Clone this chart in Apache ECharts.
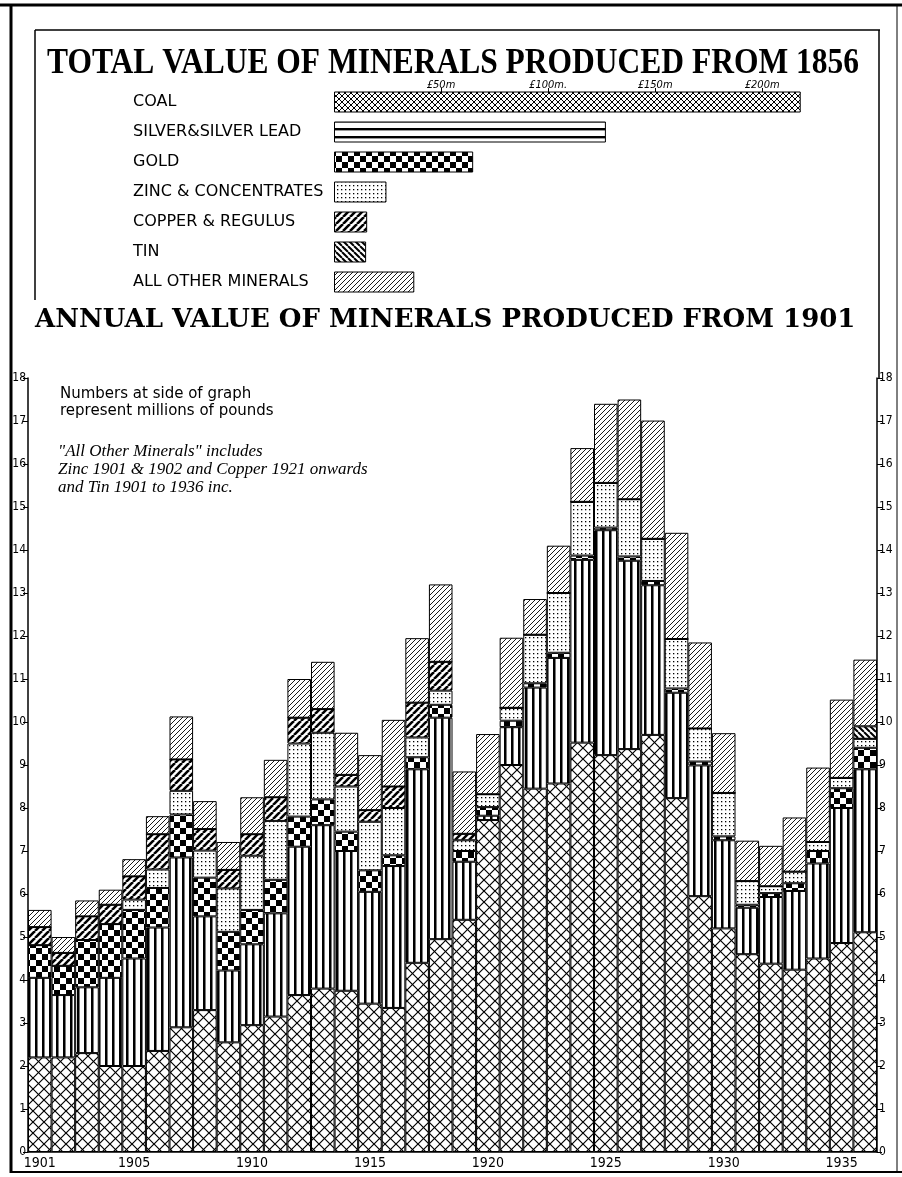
<!DOCTYPE html>
<html>
<head>
<meta charset="utf-8">
<script src="https://cdn.jsdelivr.net/npm/echarts@6/dist/echarts.min.js"></script>
<style>
html,body{margin:0;padding:0;background:#fff;}
#chart{width:902px;height:1177px;}
</style>
</head>
<body>
<div id="chart"></div>
<script>
// total value since 1856, millions of pounds
var totalNames = ['COAL', 'SILVER&SILVER LEAD', 'GOLD', 'ZINC & CONCENTRATES', 'COPPER & REGULUS', 'TIN', 'ALL OTHER MINERALS'];
var totalValues = [218, 127, 65, 24.5, 15.5, 15, 37.5];
var totalTicks = [50, 100, 150, 200];
var totalTickLabels = ['£50m', '£100m.', '£150m', '£200m'];

// annual values 1901-1936, millions of pounds
var years = ['1901','1902','1903','1904','1905','1906','1907','1908','1909','1910',
             '1911','1912','1913','1914','1915','1916','1917','1918','1919','1920',
             '1921','1922','1923','1924','1925','1926','1927','1928','1929','1930',
             '1931','1932','1933','1934','1935','1936'];
var yearLabels = ['1901','1905','1910','1915','1920','1925','1930','1935'];
var coal   = [2.2,2.2,2.3,2.0,2.0,2.35,2.9,3.3,2.55,2.95,3.15,3.65,3.8,3.75,3.45,3.35,4.4,4.95,5.4,7.72,
              9.0,8.45,8.57,9.52,9.23,9.37,9.7,8.23,5.95,5.2,4.6,4.38,4.24,4.5,4.86,5.11];
var silver = [1.85,1.45,1.53,2.05,2.5,2.87,3.95,2.18,1.67,1.88,2.4,3.45,3.8,3.25,2.6,3.3,4.5,5.15,1.35,0.1,
              0.88,2.35,2.92,4.25,5.23,4.38,3.48,2.45,3.04,2.05,1.08,1.55,1.83,2.21,3.14,3.79];
var gold   = [0.76,0.68,1.1,1.25,1.13,0.92,1.0,0.9,0.9,0.8,0.78,0.7,0.6,0.45,0.5,0.25,0.28,0.3,0.25,0.2,
              0.15,0.1,0.12,0.1,0.06,0.1,0.1,0.1,0.09,0.09,0.07,0.09,0.18,0.29,0.46,0.5];
var zinc   = [0,0,0,0,0.24,0.43,0.55,0.63,1.01,1.26,1.37,1.7,1.55,1.05,1.13,1.1,0.46,0.33,0.25,0.3,
              0.3,1.13,1.39,1.25,1.04,1.33,0.98,1.15,0.77,1.01,0.55,0.16,0.27,0.21,0.24,0.21];
var copper = [0.42,0.3,0.55,0.45,0.54,0.82,0.73,0.5,0.43,0.5,0.55,0.6,0.55,0.27,0.27,0.5,0.81,0.67,0.15,0,
              0,0,0,0,0,0,0,0,0,0,0,0,0,0,0,0];
var tin    = [0,0,0,0,0,0,0,0,0,0,0,0,0,0,0,0,0,0,0,0,
              0,0,0,0,0,0,0,0,0,0,0,0,0,0,0,0.29];
var other  = [0.4,0.37,0.37,0.35,0.4,0.42,1.0,0.65,0.65,0.86,0.87,0.9,1.1,0.98,1.28,1.55,1.5,1.8,1.45,1.4,
              1.63,0.83,1.1,1.25,1.84,2.32,2.75,2.47,2.0,1.39,0.94,0.94,1.26,1.73,1.82,1.55];

function makePattern(kind, size, lw){
    var c = document.createElement('canvas');
    c.width = size; c.height = size;
    var g = c.getContext('2d');
    g.fillStyle = '#fff';
    g.fillRect(0, 0, size, size);
    g.fillStyle = '#000';
    g.strokeStyle = '#000';
    g.lineWidth = lw || 1;
    var k;
    if(kind === 'cross' || kind === 'fwd'){
        g.beginPath();
        for(k = -1; k <= 1; k++){ g.moveTo(k*size, size); g.lineTo(k*size + size, 0); }
        g.stroke();
    }
    if(kind === 'cross' || kind === 'back'){
        g.beginPath();
        for(k = -1; k <= 1; k++){ g.moveTo(k*size, 0); g.lineTo(k*size + size, size); }
        g.stroke();
    }
    if(kind === 'vstripe'){ g.fillRect(0, 0, size*0.36, size); }
    if(kind === 'hstripe'){ g.fillRect(0, 0, size, size*0.3); }
    if(kind === 'checker'){
        g.fillRect(0, 0, size/2, size/2);
        g.fillRect(size/2, size/2, size/2, size/2);
    }
    if(kind === 'dots'){ g.fillRect(1, 1, 1.3, 1.3); }
    return {image: c, repeat: 'repeat'};
}

var fills = {
    coal: makePattern('cross', 11, 1.2),
    silver: makePattern('vstripe', 7),
    gold: makePattern('checker', 12),
    zinc: makePattern('dots', 4),
    copper: makePattern('fwd', 7, 2.6),
    tin: makePattern('back', 6, 2),
    other: makePattern('fwd', 5, 0.9)
};
var totalFills = [
    makePattern('cross', 6, 1),
    makePattern('hstripe', 8),
    fills.gold, fills.zinc, fills.copper, fills.tin, fills.other
];

var layers = [
    {name: 'Coal', data: coal, fill: fills.coal},
    {name: 'Silver & Silver Lead', data: silver, fill: fills.silver},
    {name: 'Gold', data: gold, fill: fills.gold},
    {name: 'Zinc & Concentrates', data: zinc, fill: fills.zinc},
    {name: 'Copper & Regulus', data: copper, fill: fills.copper},
    {name: 'Tin', data: tin, fill: fills.tin},
    {name: 'All Other Minerals', data: other, fill: fills.other}
];

var chart = echarts.init(document.getElementById('chart'));

var seriesList = [{
    type: 'bar',
    xAxisIndex: 0,
    yAxisIndex: 0,
    barWidth: 21,
    data: totalValues.map(function(v, i){
        return {value: v, itemStyle: {color: totalFills[i], borderColor: '#000', borderWidth: 1}};
    })
}];
layers.forEach(function(l){
    seriesList.push({
        type: 'bar',
        name: l.name,
        stack: 'annual',
        xAxisIndex: 1,
        yAxisIndex: 1,
        barCategoryGap: '0%',
        data: l.data,
        itemStyle: {color: l.fill, borderColor: '#000', borderWidth: 1}
    });
});

var valueAxisBase = {
    type: 'value',
    gridIndex: 1,
    min: 0,
    max: 18,
    interval: 1,
    axisLine: {show: true, lineStyle: {color: '#000', width: 1.5}},
    axisTick: {show: true, length: 5, lineStyle: {color: '#000'}},
    splitLine: {show: false},
    axisLabel: {color: '#000', fontSize: 12, fontFamily: 'DejaVu Sans Condensed', margin: 2}
};

var option = {
    animation: false,
    backgroundColor: '#fff',
    grid: [
        {left: 334, right: 97, top: 87, height: 210},
        {left: 28, right: 25, top: 378, bottom: 25}
    ],
    xAxis: [{
        type: 'value',
        gridIndex: 0,
        min: 0,
        max: 220,
        position: 'top',
        offset: -5,
        axisLine: {show: false},
        splitLine: {show: false},
        axisTick: {show: true, customValues: totalTicks, length: 4, lineStyle: {color: '#000'}},
        axisLabel: {
            customValues: totalTicks,
            margin: 1,
            color: '#000',
            fontSize: 11,
            fontStyle: 'italic',
            fontFamily: 'DejaVu Sans Condensed',
            formatter: function(v){ return totalTickLabels[totalTicks.indexOf(v)]; }
        }
    }, {
        type: 'category',
        gridIndex: 1,
        data: years,
        axisLine: {show: true, lineStyle: {color: '#000', width: 1.5}},
        axisTick: {show: false},
        axisLabel: {
            color: '#000',
            fontSize: 14,
            fontFamily: 'DejaVu Sans Condensed',
            margin: 4,
            interval: function(i, v){ return yearLabels.indexOf(v) >= 0; }
        }
    }],
    yAxis: [{
        type: 'category',
        gridIndex: 0,
        inverse: true,
        data: totalNames,
        axisLine: {show: false},
        axisTick: {show: false},
        axisLabel: {
            align: 'left',
            margin: 201,
            color: '#000',
            fontSize: 16,
            fontFamily: 'DejaVu Sans'
        }
    }, Object.assign({}, valueAxisBase, {position: 'left'}),
       Object.assign({}, valueAxisBase, {position: 'right'})],
    series: seriesList,
    graphic: [
        {type: 'line', shape: {x1: 0, y1: 5, x2: 902, y2: 5}, style: {stroke: '#000', lineWidth: 3}},
        {type: 'line', shape: {x1: 11, y1: 5, x2: 11, y2: 1173}, style: {stroke: '#000', lineWidth: 3}},
        {type: 'line', shape: {x1: 11, y1: 1172, x2: 902, y2: 1172}, style: {stroke: '#000', lineWidth: 2}},
        {type: 'line', shape: {x1: 897, y1: 5, x2: 897, y2: 1173}, style: {stroke: '#000', lineWidth: 1}},
        {type: 'line', shape: {x1: 35, y1: 30, x2: 880, y2: 30}, style: {stroke: '#000', lineWidth: 1.5}},
        {type: 'line', shape: {x1: 35, y1: 30, x2: 35, y2: 300}, style: {stroke: '#000', lineWidth: 1.5}},
        {type: 'line', shape: {x1: 879, y1: 30, x2: 879, y2: 378}, style: {stroke: '#000', lineWidth: 1.5}},
        {type: 'text', left: 47, top: 46, scaleY: 1.12, style: {
            text: 'TOTAL VALUE OF MINERALS PRODUCED FROM 1856',
            font: 'bold 31.5px "Liberation Serif"', fill: '#000'}},
        {type: 'text', left: 35, top: 307, style: {
            text: 'ANNUAL VALUE OF MINERALS PRODUCED FROM 1901',
            font: 'bold 26px "DejaVu Serif"', fill: '#000'}},
        {type: 'text', left: 60, top: 386, style: {
            text: 'Numbers at side of graph\nrepresent millions of pounds',
            font: '15px "DejaVu Sans"', lineHeight: 17, fill: '#000'}},
        {type: 'text', left: 58, top: 443, style: {
            text: '"All Other Minerals" includes\nZinc 1901 & 1902 and Copper 1921 onwards\nand Tin 1901 to 1936 inc.',
            font: 'italic 17px "Liberation Serif"', lineHeight: 18, fill: '#000'}}
    ]
};

chart.setOption(option);
window.addEventListener('resize', function(){ chart.resize(); });
</script>
</body>
</html>
